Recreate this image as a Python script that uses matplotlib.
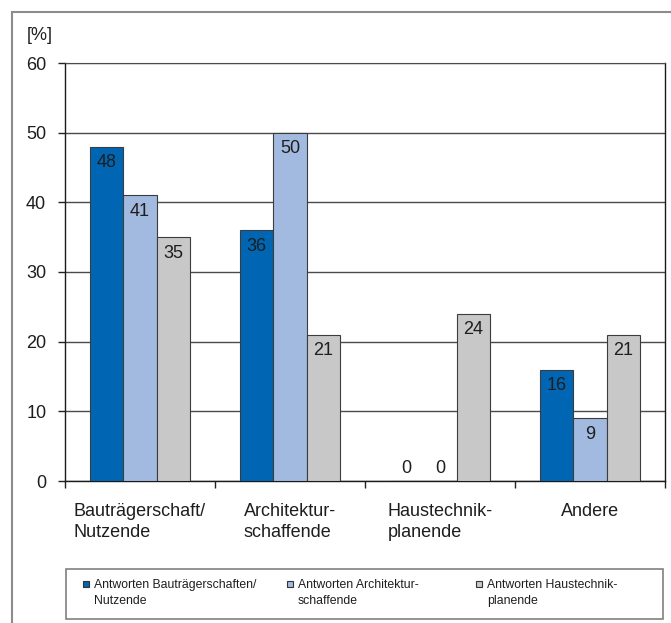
import matplotlib
matplotlib.use("Agg")
import matplotlib.pyplot as plt
from matplotlib.lines import Line2D
from matplotlib.patches import Rectangle
import numpy as np

plt.rcParams['font.family'] = ['Liberation Sans', 'DejaVu Sans']

categories = ["Bauträgerschaft/\nNutzende", "Architektur-\nschaffende",
              "Haustechnik-\nplanende", "Andere"]
series_names = ["Antworten Bauträgerschaften/\nNutzende",
                "Antworten Architektur-\nschaffende",
                "Antworten Haustechnik-\nplanende"]
bautraeger = [48, 36, 0, 16]
architektur = [41, 50, 0, 9]
haustechnik = [35, 21, 24, 21]
series_values = [bautraeger, architektur, haustechnik]
colors = ["#0066b3", "#a3bae0", "#c8c8c8"]
yticks = [0, 10, 20, 30, 40, 50, 60]

W, H = 671, 623
fig = plt.figure(figsize=(W / 100, H / 100), dpi=100)

def fx(px):
    return px / W

def fy(py):
    return 1 - py / H

FS = 13
# plot area
left, right, top, bottom = 65, 665, 63, 481
ax = fig.add_axes([fx(left), fy(bottom), fx(right - left), (bottom - top) / H])

x = np.arange(len(categories))
bw = 2 / 9
text_col = "#1e1e1e"
for i, (vals, col) in enumerate(zip(series_values, colors)):
    pos = x + (i - 1) * bw
    ax.bar(pos, vals, width=bw, color=col, edgecolor="#3c3c3c", linewidth=0.8, zorder=3)
    for xp, v in zip(pos, vals):
        if v > 0:
            ax.annotate(f"{v}", (xp, v), xytext=(0, -5.5), textcoords="offset points",
                        ha="center", va="top", fontsize=FS, color=text_col, zorder=4)
        else:
            ax.annotate(f"{v}", (xp, v), xytext=(0, 5.8), textcoords="offset points",
                        ha="center", va="baseline", fontsize=FS, color=text_col, zorder=4)

ax.set_xlim(-0.5, len(categories) - 0.5)
ax.set_ylim(0, 60)
ax.set_yticks(yticks)
ax.set_yticklabels([str(t) for t in yticks], fontsize=FS, color=text_col)
ax.yaxis.grid(True, color="#4a4a4a", linewidth=1.0, zorder=0)
ax.set_axisbelow(True)
ax.tick_params(axis="y", length=5, width=1, pad=8.5, color="#222222")

ax.set_xticks(x)
ax.set_xticklabels(categories, fontsize=FS, color=text_col, multialignment="left",
                   linespacing=1.3)
ax.set_xticks(np.arange(-0.5, len(categories)), minor=True)
ax.tick_params(axis="x", which="major", length=0, pad=16)
ax.tick_params(axis="x", which="minor", length=5, width=1, color="#222222")

for side in ["left", "bottom", "right"]:
    ax.spines[side].set_color("#1a1a1a")
    ax.spines[side].set_linewidth(1.0)
ax.spines["top"].set_color("#4a4a4a")

fig.text(fx(27), fy(35), "[%]", fontsize=FS, ha="left", va="center", color=text_col)

# outer frame
frame_col = "#8c8c8c"
fig.add_artist(Line2D([fx(12), 1.0], [fy(12), fy(12)], color=frame_col, linewidth=1.5))
fig.add_artist(Line2D([fx(12), fx(12)], [fy(12), 0.0], color=frame_col, linewidth=1.5))

# legend box
lx0, lx1, ly0, ly1 = 66, 663, 569, 619
fig.add_artist(Rectangle((fx(lx0), fy(ly1)), fx(lx1 - lx0), (ly1 - ly0) / H,
                         transform=fig.transFigure, fill=False,
                         edgecolor="#808080", linewidth=1.2))
marker_x = [83, 287, 476]
for mx, name, col in zip(marker_x, series_names, colors):
    fig.add_artist(Rectangle((fx(mx), fy(587)), fx(6), 6 / H, transform=fig.transFigure,
                             facecolor=col, edgecolor="#333333", linewidth=0.8))
    fig.text(fx(mx + 11), fy(579), name, fontsize=8.8, ha="left", va="top",
             color=text_col, linespacing=1.45)

fig.savefig("out.png", dpi=100)
